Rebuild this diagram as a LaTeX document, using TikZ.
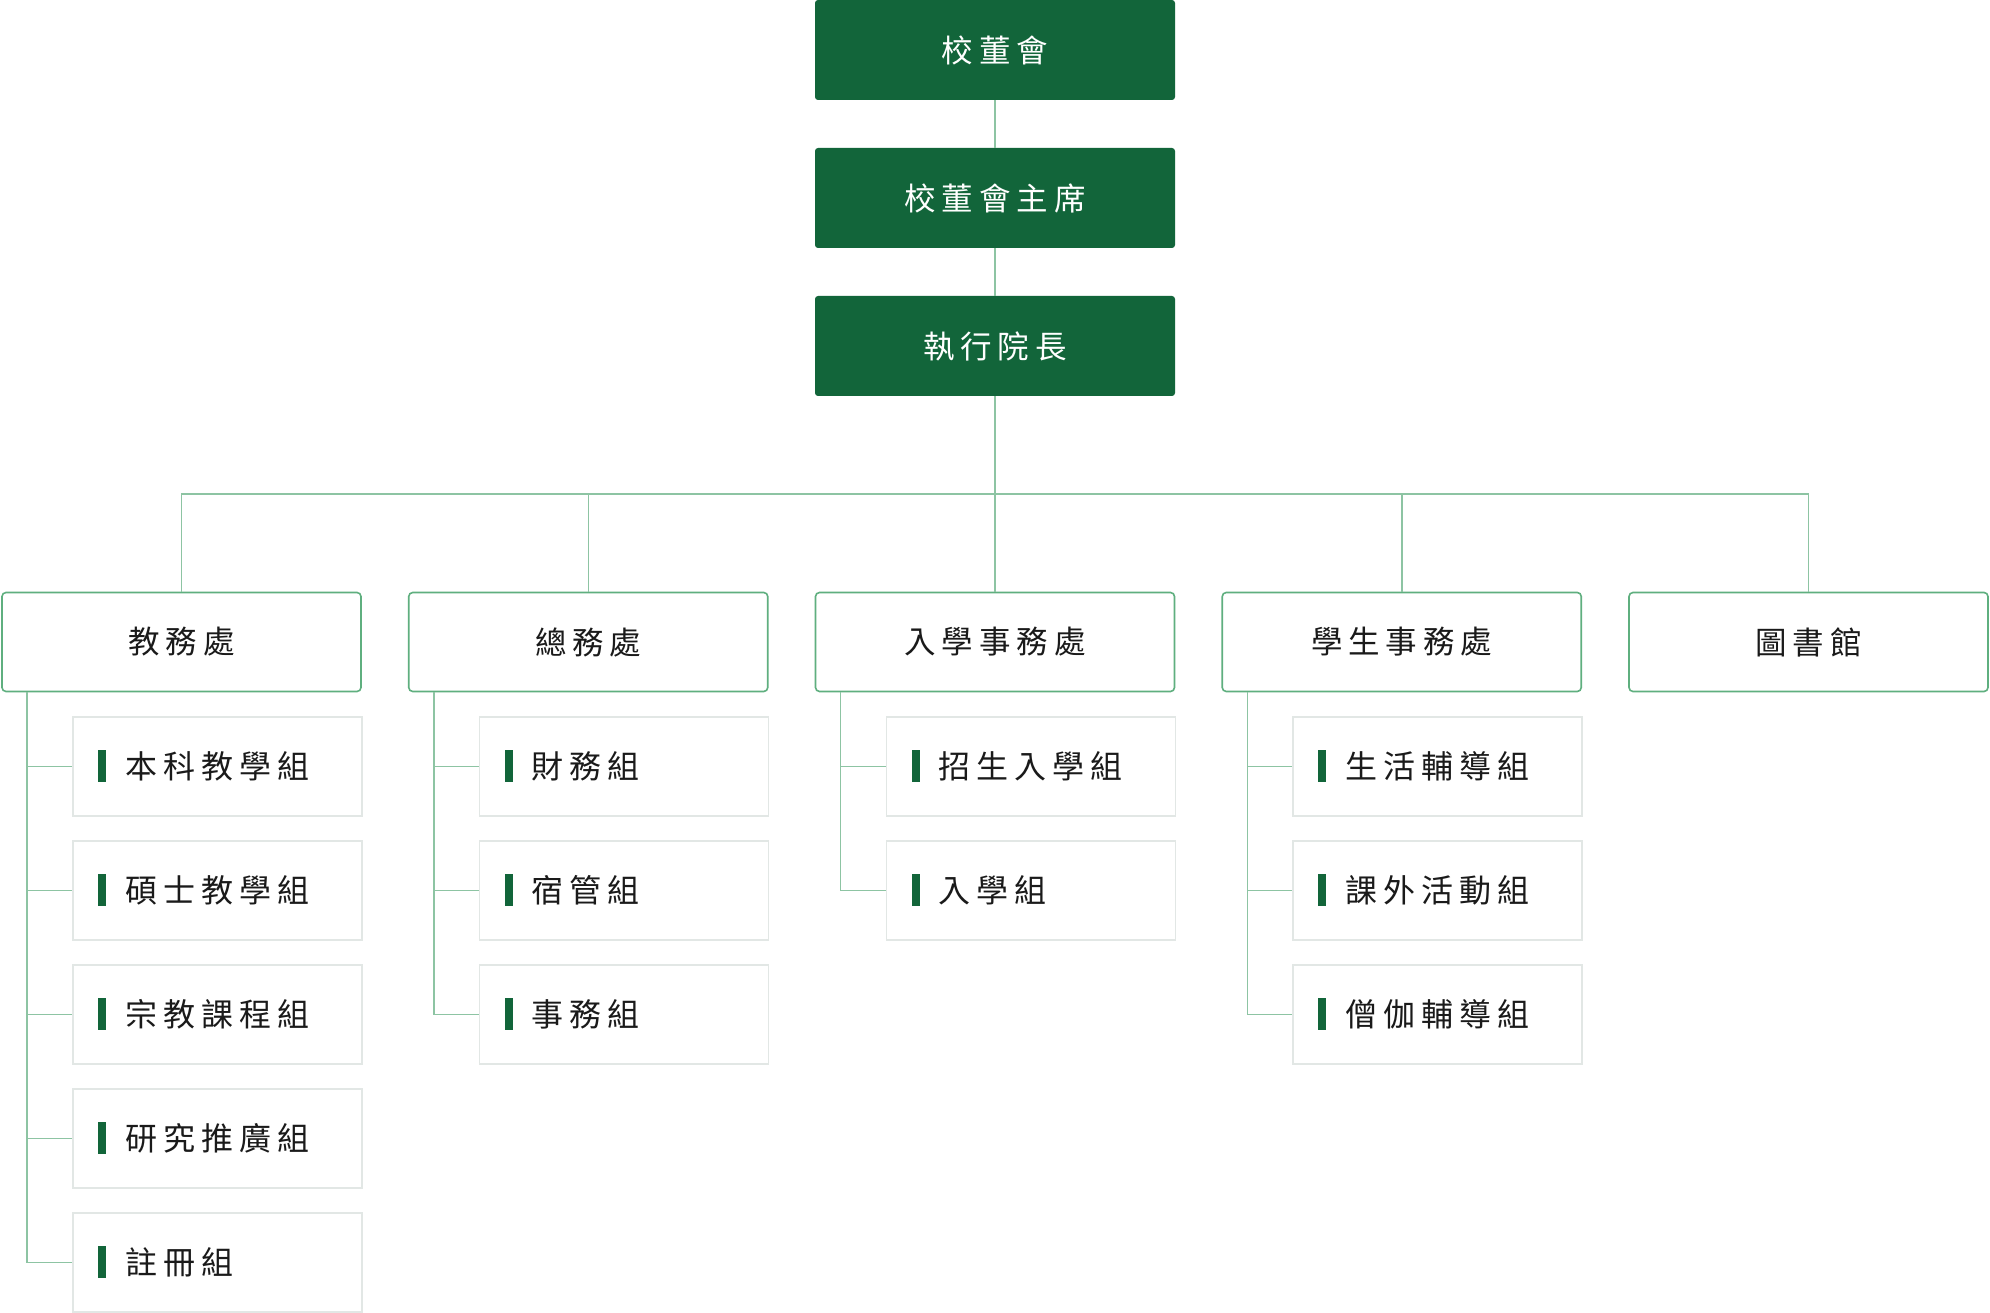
\documentclass[tikz,border=0pt]{standalone}
\usepackage{fontspec}
\newfontfamily\cjk{Noto Sans CJK TC}
\definecolor{dg}{HTML}{12653A}
\definecolor{midg}{HTML}{5FAF7F}
\definecolor{cong}{HTML}{8DC4A3}
\definecolor{subgr}{HTML}{E2E7E5}
\definecolor{txt}{HTML}{1A1A1A}
\makeatletter
\newcommand\spaced[1]{\let\my@sep\relax\@tfor\my@c:=#1\do{\my@sep\my@c\def\my@sep{\hspace{6pt}}}}
\makeatother
\tikzset{
  topbox/.style={fill=dg, draw=none, rounded corners=3pt, minimum width=360pt, minimum height=100pt, inner sep=0pt, text=white, font=\cjk\fontsize{31.5}{36}\selectfont},
  deptbox/.style={fill=white, draw=midg, line width=1.6pt, rounded corners=4pt, minimum width=359pt, minimum height=99pt, inner sep=0pt, text=txt, font=\cjk\fontsize{31.5}{36}\selectfont},
  subbox/.style={fill=white, draw=subgr, line width=1.6pt, minimum width=289pt, minimum height=99pt, inner sep=0pt},
  subtext/.style={inner sep=0pt, text=txt, font=\cjk\fontsize{32}{36}\selectfont},
  conn/.style={draw=cong, line width=1.5pt}
}
\newcommand\subbox[5]{% name, parent, left x, top y, text
  \node[subbox, anchor=north west] (#1) at (#3,#4) {};
  \fill[dg] ([xshift=26pt]#1.west) ++(0,-16) rectangle ++(8,32);
  \node[subtext, anchor=west] (#1t) at ([xshift=53pt]#1.west) {\spaced{#5}};
  \draw[conn] ([xshift=26pt]#2.south west) |- (#1.west);
}
\begin{document}
\begin{tikzpicture}[x=1pt,y=-1pt]
\useasboundingbox[fill=white] (0,0) rectangle (1990,1313);
\node[topbox] (board) at (995,50) {\spaced{校董會}};
\node[topbox] (chair) at (995,198) {\spaced{校董會主席}};
\node[topbox] (dean) at (995,346) {\spaced{執行院長}};
\coordinate (bus) at (995,494);
\draw[conn] (board.south) -- (chair.north);
\draw[conn] (chair.south) -- (dean.north);
\node[deptbox] (d1) at (181.5,642) {\spaced{教務處}};
\node[deptbox] (d2) at (588.25,642) {\spaced{總務處}};
\node[deptbox] (d3) at (995,642) {\spaced{入學事務處}};
\node[deptbox] (d4) at (1401.75,642) {\spaced{學生事務處}};
\node[deptbox] (d5) at (1808.5,642) {\spaced{圖書館}};
\draw[conn] (dean.south) -- (d3.north);
\draw[conn] (d1.north) |- (bus) -| (d5.north);
\draw[conn] (d2.north) -- (d2.north |- bus);
\draw[conn] (d4.north) -- (d4.north |- bus);
% children
\subbox{s11}{d1}{72}{716}{本科教學組}
\subbox{s12}{d1}{72}{840}{碩士教學組}
\subbox{s13}{d1}{72}{964}{宗教課程組}
\subbox{s14}{d1}{72}{1088}{研究推廣組}
\subbox{s15}{d1}{72}{1212}{註冊組}
\subbox{s21}{d2}{478.75}{716}{財務組}
\subbox{s22}{d2}{478.75}{840}{宿管組}
\subbox{s23}{d2}{478.75}{964}{事務組}
\subbox{s31}{d3}{885.5}{716}{招生入學組}
\subbox{s32}{d3}{885.5}{840}{入學組}
\subbox{s41}{d4}{1292.25}{716}{生活輔導組}
\subbox{s42}{d4}{1292.25}{840}{課外活動組}
\subbox{s43}{d4}{1292.25}{964}{僧伽輔導組}
\end{tikzpicture}
\end{document}
